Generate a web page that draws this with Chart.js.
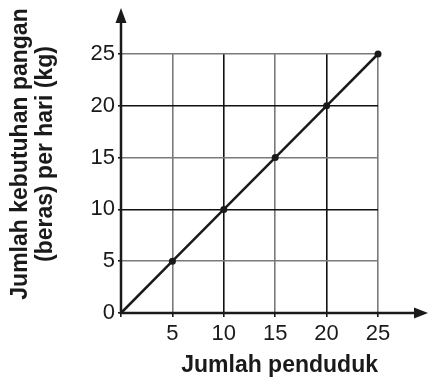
<!DOCTYPE html>
<html>
<head>
<meta charset="utf-8">
<script src="https://cdn.jsdelivr.net/npm/chart.js@4.4.0/dist/chart.umd.min.js"></script>
<style>
  html, body { margin: 0; padding: 0; background: #fff; }
  #wrap { width: 429px; height: 381px; }
</style>
</head>
<body>
<div id="wrap"><canvas id="kebutuhanChart" width="429" height="381"></canvas></div>
<script>
// jumlah penduduk vs kebutuhan beras (kg)
var penduduk = [0, 5, 10, 15, 20, 25];
var kebutuhan = [0, 5, 10, 15, 20, 25];
var tickValues = [0, 5, 10, 15, 20, 25];
var xTitle = "Jumlah penduduk";
var yTitle = ["Jumlah kebutuhan pangan", "(beras) per hari (kg)"];

var ink = "#1a1a1a";
var fontFam = "'Liberation Sans', Arial, Helvetica, sans-serif";

function gridColor(ctx) {
    if (!ctx.tick) return ink;
    return ctx.tick.value % 10 === 0 ? "#111" : "#7a7a7a";
}

// axes with arrow heads + rotated y title
var axisArrows = {
    id: "axisArrows",
    afterDraw: function (chart) {
        var c = chart.ctx;
        var xs = chart.scales.x, ys = chart.scales.y;
        var ox = xs.getPixelForValue(0), oy = ys.getPixelForValue(0);
        c.save();
        c.strokeStyle = ink;
        c.fillStyle = ink;
        c.lineWidth = 2.5;
        c.beginPath();
        c.moveTo(ox, oy + 1);
        c.lineTo(ox, 20);
        c.moveTo(ox - 1, oy);
        c.lineTo(416, oy);
        c.stroke();
        // y arrow
        c.beginPath();
        c.moveTo(ox, 8);
        c.lineTo(ox - 5.5, 23);
        c.lineTo(ox + 5.5, 23);
        c.closePath();
        c.fill();
        // x arrow
        c.beginPath();
        c.moveTo(428, oy);
        c.lineTo(414, oy - 5.5);
        c.lineTo(414, oy + 5.5);
        c.closePath();
        c.fill();

        c.font = "bold 23px " + fontFam;
        c.textAlign = "center";
        c.textBaseline = "middle";
        c.translate(0, 154);
        c.rotate(-Math.PI / 2);
        c.fillText(yTitle[0], 0, 21);
        c.fillText(yTitle[1], 0, 46);
        c.restore();
    }
};

var ctx = document.getElementById("kebutuhanChart").getContext("2d");
var chart = new Chart(ctx, {
    type: "line",
    data: {
        datasets: [{
            data: penduduk.map(function (p, i) { return { x: p, y: kebutuhan[i] }; }),
            borderColor: ink,
            borderWidth: 2.5,
            pointRadius: [0, 3.5, 3.5, 3.5, 3.5, 3.5],
            pointBackgroundColor: ink,
            pointBorderWidth: 0,
            tension: 0,
            clip: false
        }]
    },
    options: {
        responsive: false,
        animation: false,
        layout: { padding: { top: 54, right: 51, left: 0, bottom: 0 } },
        plugins: { legend: { display: false }, tooltip: { enabled: false } },
        scales: {
            x: {
                type: "linear",
                min: 0,
                max: 25,
                afterBuildTicks: function (s) { s.ticks = tickValues.map(function (v) { return { value: v }; }); },
                afterFit: function (s) { s.height = 68; },
                border: { display: false },
                grid: { color: gridColor, lineWidth: 1.6, tickLength: 4, tickColor: ink },
                ticks: {
                    color: ink,
                    padding: 4,
                    maxRotation: 0,
                    font: { family: fontFam, size: 22 },
                    callback: function (v) { return v === 0 ? "" : v; }
                },
                title: {
                    display: true,
                    text: xTitle,
                    align: "end",
                    color: ink,
                    padding: { top: 0, bottom: 2 },
                    font: { family: fontFam, size: 23, weight: "bold" }
                }
            },
            y: {
                min: 0,
                max: 25,
                afterBuildTicks: function (s) { s.ticks = tickValues.map(function (v) { return { value: v }; }); },
                afterFit: function (s) { s.width = 121; },
                border: { display: false },
                grid: { color: gridColor, lineWidth: 1.6, tickLength: 3, tickColor: ink },
                ticks: {
                    color: ink,
                    padding: 3,
                    font: { family: fontFam, size: 22 }
                }
            }
        }
    },
    plugins: [axisArrows]
});
</script>
</body>
</html>
